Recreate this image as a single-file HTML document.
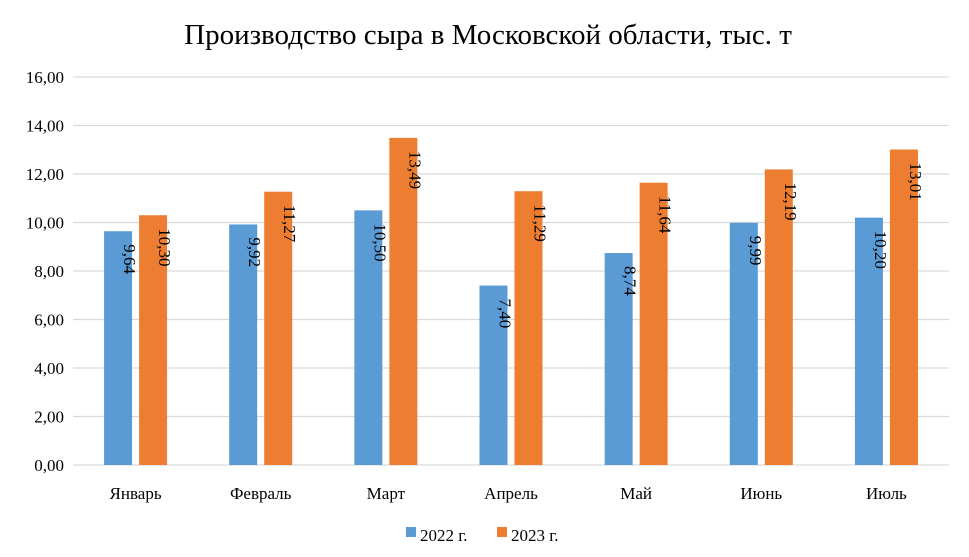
<!DOCTYPE html>
<html><head><meta charset="utf-8"><style>
body{margin:0;background:#fff;}
svg{display:block;font-family:"Liberation Serif",serif;}
</style></head><body>
<svg id="chart" width="969" height="557">
<rect width="969" height="557" fill="#fff"/>
<text x="488" y="44" text-anchor="middle" font-size="29" fill="#000">Производство сыра в Московской области, тыс. т</text>
<g id="grid"></g><g id="bars"></g><g id="xlabels"></g>
<g>
<rect x="406" y="527" width="10" height="10" fill="#5B9BD5"/>
<text x="420" y="541" font-size="17">2022 г.</text>
<rect x="497" y="527" width="10" height="10" fill="#ED7D31"/>
<text x="511" y="541" font-size="17">2023 г.</text>
</g>
</svg>
<script>
const categories=["Январь","Февраль","Март","Апрель","Май","Июнь","Июль"];
const series2022=[9.64,9.92,10.50,7.40,8.74,9.99,10.20];
const series2023=[10.30,11.27,13.49,11.29,11.64,12.19,13.01];
const yTicks=[0,2,4,6,8,10,12,14,16];
const NS="http://www.w3.org/2000/svg";
const x0=73,x1=949,yBase=465,yTop=77,yMax=16;
const y=v=>yBase-(v/yMax)*(yBase-yTop);
const band=(x1-x0)/categories.length;
const cx=i=>x0+band*(i+0.5);
function mk(tag,attrs,parent){const e=document.createElementNS(NS,tag);for(const k in attrs)e.setAttribute(k,attrs[k]);parent.appendChild(e);return e;}
const grid=document.getElementById('grid'),bars=document.getElementById('bars'),xl=document.getElementById('xlabels');
yTicks.forEach(t=>{
 const l=mk('line',{x1:x0,x2:x1,y1:y(t),y2:y(t),stroke:'#d9d9d9','stroke-width':1.3},grid);
 
 
 const tx=mk('text',{x:64,y:y(t)+6,'text-anchor':'end','font-size':17},grid);
 tx.textContent=t.toFixed(2).replace('.',',');
 
 
});
const bw=28,gap=7;
categories.forEach((c,i)=>{
 [[series2022,'#5B9BD5',-gap/2-bw,'2022'],[series2023,'#ED7D31',gap/2,'2023']].forEach(([s,col,off,yr])=>{
  const v=s[i],bx=cx(i)+off;
  const r=mk('rect',{x:bx,y:y(v),width:bw,height:yBase-y(v),fill:col},bars);
  
  
  const tx=bx+bw/2+6,ty=y(v)+13;
  const t=mk('text',{x:tx,y:ty,'font-size':17,transform:`rotate(90 ${tx} ${ty})`},bars);
  t.textContent=v.toFixed(2).replace('.',',');
  
  
 });
 const t=mk('text',{x:cx(i),y:499,'text-anchor':'middle','font-size':17},xl);
 t.textContent=c;
 
 
});
</script>
</body></html>
